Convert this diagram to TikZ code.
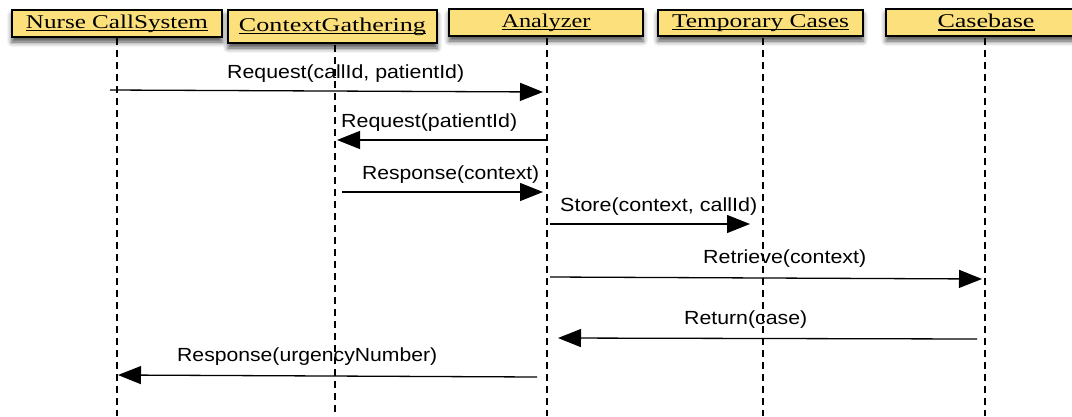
\documentclass[tikz,border=0pt]{standalone}
\usepackage{fontspec}
\setmainfont{Liberation Serif}
\newfontfamily\msgfont{Liberation Sans}
\usetikzlibrary{arrows.meta,shadows.blur}
\definecolor{boxfill}{RGB}{252,224,124}
% stretch a text horizontally to a given width, keeping its height
\newcommand{\fitw}[2]{\resizebox{#1}{\height}{#2}}
% underline drawn just below the baseline
\newsavebox{\ulsave}
\newcommand{\ulline}[1]{\sbox{\ulsave}{#1}\rlap{\vrule width \wd\ulsave height -1.6pt depth 3pt}\usebox{\ulsave}}
\begin{document}
\begin{tikzpicture}[x=1pt,y=-1pt,
  actor/.style={draw=black, line width=1.4pt, fill=boxfill, inner sep=0pt,
    font=\fontsize{19.5}{21}\selectfont,
    blur shadow={shadow xshift=0pt, shadow yshift=-5pt, shadow blur radius=5pt, shadow opacity=70}},
  lifeline/.style={line width=1.2pt, dash pattern=on 7pt off 5pt},
  msg/.style={line width=1.3pt, -{Triangle[length=23pt,width=18pt]}},
  lbl/.style={anchor=base west, inner sep=0pt, font=\msgfont\fontsize{19}{21}\selectfont}]
\useasboundingbox (0,0) rectangle (1072,416);
\clip (0,0) rectangle (1072,416);
\coordinate (bot) at (0,416);

% participants
\node[actor, minimum width=210pt, minimum height=27pt] (nurse) at (117,23.5) {\fitw{182pt}{\ulline{Nurse CallSystem}}};
\node[actor, minimum width=209pt, minimum height=33pt] (ctx) at (332.5,26.5) {\fitw{187pt}{\ulline{ContextGathering}}};
\node[actor, minimum width=194pt, minimum height=27pt] (ana) at (546,22.5) {\fitw{89pt}{\ulline{Analyzer}}};
\node[actor, minimum width=205pt, minimum height=26pt] (tmp) at (760.5,23) {\fitw{177pt}{\ulline{Temporary Cases}}};
\node[actor, minimum width=200pt, minimum height=27pt] (cb) at (986,22.5) {\fitw{97pt}{\ulline{Casebase}}};

% lifelines
\coordinate (nurseL) at (117,38);
\coordinate (ctxL) at (335,45);
\coordinate (anaL) at (547,38);
\coordinate (tmpL) at (763,38);
\coordinate (cbL) at (985,38);
\foreach \p in {nurseL,ctxL,anaL,tmpL,cbL}
  \draw[lifeline] (\p) -- (\p |- bot);

% message end points
\coordinate (m1a) at (110,90);   \coordinate (m1b) at (543,92);
\coordinate (m2a) at (546,140);  \coordinate (m2b) at (337,140);
\coordinate (m3a) at (342,192);  \coordinate (m3b) at (543,192);
\coordinate (m4a) at (550,224);  \coordinate (m4b) at (750,224);
\coordinate (m5a) at (550,277);  \coordinate (m5b) at (982,279);
\coordinate (m6a) at (977,339);  \coordinate (m6b) at (558,338);
\coordinate (m7a) at (537,377);  \coordinate (m7b) at (118,375);

% messages
\draw[msg] (m1a) -- (m1b);
\draw[msg] (m2a) -- (m2b);
\draw[msg] (m3a) -- (m3b);
\draw[msg] (m4a) -- (m4b);
\draw[msg] (m5a) -- (m5b);
\draw[msg] (m6a) -- (m6b);
\draw[msg] (m7a) -- (m7b);

% message labels
\node[lbl] (l1) at (227,78) {\fitw{237pt}{Request(callId, patientId)}};
\node[lbl] (l2) at (341,127) {\fitw{176pt}{Request(patientId)}};
\node[lbl] (l3) at (362,179) {\fitw{177pt}{Response(context)}};
\node[lbl] (l4) at (560,211) {\fitw{197pt}{Store(context, callId)}};
\node[lbl] (l5) at (703,263) {\fitw{163pt}{Retrieve(context)}};
\node[lbl] (l6) at (684,324) {\fitw{123pt}{Return(case)}};
\node[lbl] (l7) at (177,361) {\fitw{260pt}{Response(urgencyNumber)}};
\end{tikzpicture}
\end{document}
